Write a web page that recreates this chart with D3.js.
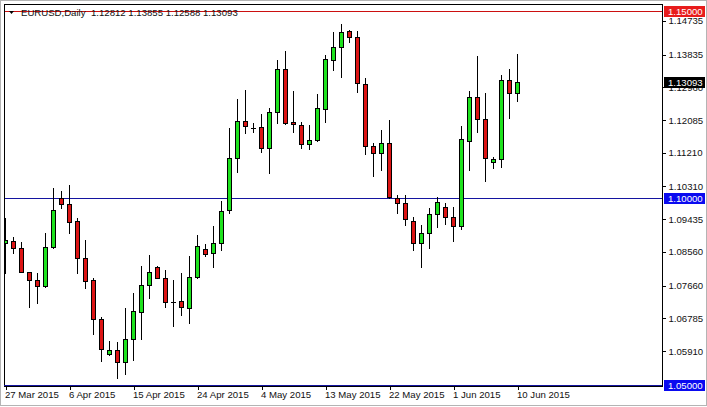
<!DOCTYPE html>
<html><head><meta charset="utf-8">
<script src="https://cdn.jsdelivr.net/npm/d3@7"></script>
<style>body{margin:0;background:#fff}svg{display:block}text{font-family:"Liberation Sans",Arial,sans-serif}</style>
</head><body>
<svg id="c" width="707" height="407"></svg>
<script>
const dates = ["2015-03-27","2015-03-29","2015-03-30","2015-03-31","2015-04-01","2015-04-02","2015-04-03",
"2015-04-05","2015-04-06","2015-04-07","2015-04-08","2015-04-09","2015-04-10",
"2015-04-12","2015-04-13","2015-04-14","2015-04-15","2015-04-16","2015-04-17",
"2015-04-19","2015-04-20","2015-04-21","2015-04-22","2015-04-23","2015-04-24",
"2015-04-26","2015-04-27","2015-04-28","2015-04-29","2015-04-30","2015-05-01",
"2015-05-03","2015-05-04","2015-05-05","2015-05-06","2015-05-07","2015-05-08",
"2015-05-10","2015-05-11","2015-05-12","2015-05-13","2015-05-14","2015-05-15",
"2015-05-17","2015-05-18","2015-05-19","2015-05-20","2015-05-21","2015-05-22",
"2015-05-24","2015-05-25","2015-05-26","2015-05-27","2015-05-28","2015-05-29",
"2015-05-31","2015-06-01","2015-06-02","2015-06-03","2015-06-04","2015-06-05",
"2015-06-07","2015-06-08","2015-06-09","2015-06-10"];
const open  = [1.08797,1.08850,1.08663,1.08021,1.07807,1.07647,1.08690,1.10000,1.09840,1.09385,1.08396,1.07807,1.06765,1.05829,1.05936,1.05615,1.06230,1.06952,1.07674,1.08155,1.07861,1.07219,1.07246,1.07059,1.07888,1.08636,1.08529,1.08797,1.09679,1.11070,1.12059,1.11872,1.11898,1.11337,1.12299,1.13449,1.12032,1.11952,1.11444,1.11551,1.12380,1.13690,1.14037,1.14465,1.14305,1.13048,1.11390,1.11203,1.11471,1.10000,1.09866,1.09385,1.08797,1.09064,1.09572,1.09759,1.09492,1.09251,1.11524,1.12701,1.12112,1.10963,1.11043,1.13155,1.12812];
const high  = [1.09465,1.08957,1.08824,1.08021,1.07995,1.09064,1.10267,1.10187,1.10348,1.09465,1.08877,1.07861,1.06818,1.06176,1.06150,1.07059,1.07460,1.08182,1.08476,1.08182,1.08075,1.07807,1.07995,1.08449,1.09011,1.08770,1.09251,1.09920,1.11872,1.12647,1.12888,1.12005,1.12246,1.12406,1.13690,1.13930,1.12861,1.12032,1.11952,1.12781,1.13824,1.14439,1.14652,1.14492,1.14465,1.13209,1.11471,1.11818,1.12086,1.10080,1.10080,1.09492,1.09278,1.09733,1.10027,1.09866,1.09759,1.11925,1.12861,1.13797,1.12807,1.11096,1.13289,1.13449,1.13855];
const low   = [1.07995,1.08529,1.08021,1.07086,1.07193,1.07620,1.08663,1.09733,1.09064,1.07995,1.07594,1.06364,1.05642,1.05802,1.05187,1.05294,1.05668,1.06230,1.07326,1.07861,1.07086,1.06578,1.06872,1.06658,1.07861,1.08449,1.08155,1.08610,1.09599,1.10695,1.11738,1.11765,1.11230,1.10668,1.12005,1.11979,1.11765,1.11337,1.11310,1.11524,1.12032,1.13422,1.13235,1.14171,1.12834,1.11176,1.10588,1.10749,1.10000,1.09599,1.09278,1.08610,1.08155,1.08663,1.09225,1.09305,1.08850,1.09171,1.10749,1.11765,1.10455,1.10802,1.10829,1.12139,1.12588];
const close = [1.08877,1.08663,1.08021,1.07807,1.07647,1.08690,1.09679,1.09840,1.09358,1.08396,1.07781,1.06765,1.05963,1.05936,1.05615,1.06230,1.06979,1.07674,1.08021,1.07861,1.07219,1.07219,1.07086,1.07888,1.08717,1.08503,1.08797,1.09652,1.11070,1.12059,1.11925,1.11872,1.11337,1.12299,1.13449,1.12005,1.11979,1.11444,1.11551,1.12406,1.13717,1.14037,1.14439,1.14305,1.13075,1.11390,1.11203,1.11471,1.10027,1.09866,1.09439,1.08797,1.09064,1.09572,1.09893,1.09492,1.09251,1.11578,1.12701,1.12112,1.11070,1.11043,1.13155,1.12807,1.13093];
const xTickDates  = ["2015-03-27","2015-04-06","2015-04-15","2015-04-24","2015-05-04","2015-05-13","2015-05-22","2015-06-01","2015-06-10"];
const xTickLabels = ["27 Mar 2015","6 Apr 2015","15 Apr 2015","24 Apr 2015","4 May 2015","13 May 2015","22 May 2015","1 Jun 2015","10 Jun 2015"];
const yTicks = [1.14735,1.13835,1.12960,1.12085,1.11210,1.10310,1.09435,1.08560,1.07660,1.06785,1.05910];
const hLines = [{v:1.15,c:"#cc1010",box:"#e81c1c"},{v:1.10,c:"#1414a0",box:"#0a0af0"},{v:1.05,c:"#1414a0",box:"#0a0af0"}];
const lastPrice = 1.13093;
const title = "EURUSD,Daily", titleVals = "1.12812 1.13855 1.12588 1.13093";

const svg = d3.select("#c");
const L=4, T=4, R=662, B=386;
const x = d3.scalePoint().domain(dates).range([5, 517]);
const y = d3.scaleLinear().domain([1.05, 1.15]).range([385, 11]);

// outer window border
svg.append("rect").attr("x",0.5).attr("y",0.5).attr("width",706).attr("height",405).attr("fill","none").attr("stroke","#b4b4b4");
svg.append("defs").append("clipPath").attr("id","clip").append("rect").attr("x",L+1).attr("y",T+1).attr("width",R-L-1).attr("height",B-T-1);

// horizontal lines
hLines.forEach(h=>{
  const yy=Math.round(y(h.v))+0.5;
  svg.append("line").attr("x1",L).attr("x2",R).attr("y1",yy).attr("y2",yy).attr("stroke",h.c).attr("stroke-width",1);
});

// title
svg.append("path").attr("d","M9,11 L14,11 L11.5,14 Z").attr("fill","#000");
svg.append("text").attr("x",21).attr("y",16).attr("font-size",9.6).attr("fill","#111").text(title);
svg.append("text").attr("x",91).attr("y",16).attr("font-size",9.6).attr("fill","#111").text(titleVals);

// candles
const data = dates.map((d,i)=>({d,o:open[i],h:high[i],l:low[i],c:close[i]}));
const g = svg.append("g").attr("clip-path","url(#clip)").attr("shape-rendering","crispEdges");
const cg = g.selectAll("g").data(data).join("g");
cg.append("line").attr("x1",d=>Math.round(x(d.d))+0.5).attr("x2",d=>Math.round(x(d.d))+0.5)
  .attr("y1",d=>Math.round(y(d.h))).attr("y2",d=>Math.round(y(d.l))+1).attr("stroke","#000");
cg.each(function(d){
  const s=d3.select(this), cx=Math.round(x(d.d));
  const y1=Math.round(y(Math.max(d.o,d.c))), y2=Math.round(y(Math.min(d.o,d.c)));
  if (y2-y1<1) {
    s.append("line").attr("x1",cx-2).attr("x2",cx+3).attr("y1",y1+0.5).attr("y2",y1+0.5).attr("stroke","#000");
  } else {
    s.append("rect").attr("x",cx-2+0.5).attr("y",y1+0.5).attr("width",4).attr("height",y2-y1)
     .attr("fill",d.c>=d.o?"#1ee21e":"#dc1414").attr("stroke","#000");
  }
});

// frame
svg.append("path").attr("d",`M${L+0.5},${B} L${L+0.5},${T+0.5} L${R+0.5},${T+0.5} L${R+0.5},${B+0.5} L${L},${B+0.5}`)
  .attr("fill","none").attr("stroke","#000").attr("shape-rendering","crispEdges");
// bottom line overlay blue (1.05 line)
svg.append("line").attr("x1",L).attr("x2",R).attr("y1",Math.round(y(1.05))+0.5).attr("y2",Math.round(y(1.05))+0.5).attr("stroke","#1414a0");

// y axis
const ya = svg.append("g").attr("transform",`translate(${R+0.5},0)`)
  .call(d3.axisRight(y).tickValues(yTicks).tickFormat(d3.format(".5f")).tickSize(3).tickPadding(3));
ya.select(".domain").remove();
ya.selectAll(".tick line").attr("stroke","#000").attr("shape-rendering","crispEdges");
ya.selectAll(".tick text").attr("font-size",9.6).attr("fill","#111").attr("font-family","Liberation Sans, Arial, sans-serif");

// x axis
const lab = d3.scaleOrdinal().domain(xTickDates).range(xTickLabels);
const xa = svg.append("g").attr("transform",`translate(0.5,${B})`)
  .call(d3.axisBottom(x).tickValues(xTickDates).tickFormat(d=>lab(d)).tickSize(4).tickPadding(2));
xa.select(".domain").remove();
xa.selectAll(".tick line").attr("stroke","#000").attr("shape-rendering","crispEdges");
xa.selectAll(".tick text").attr("text-anchor","start").attr("x",-1).attr("dy","0.71em").attr("y",5)
  .attr("font-size",9.6).attr("fill","#111").attr("font-family","Liberation Sans, Arial, sans-serif");

// price boxes
const boxes = [{v:1.15,c:"#e81c1c"},{v:lastPrice,c:"#000"},{v:1.10,c:"#0a0af0"},{v:1.05,c:"#0a0af0"}];
boxes.forEach(b=>{
  const yy=Math.round(y(b.v));
  svg.append("rect").attr("x",664).attr("y",yy-5).attr("width",41).attr("height",11).attr("fill",b.c);
  svg.append("text").attr("x",668).attr("y",yy+4).attr("font-size",9.6).attr("fill","#fff").text(d3.format(".5f")(b.v));
});
</script>
</body></html>
